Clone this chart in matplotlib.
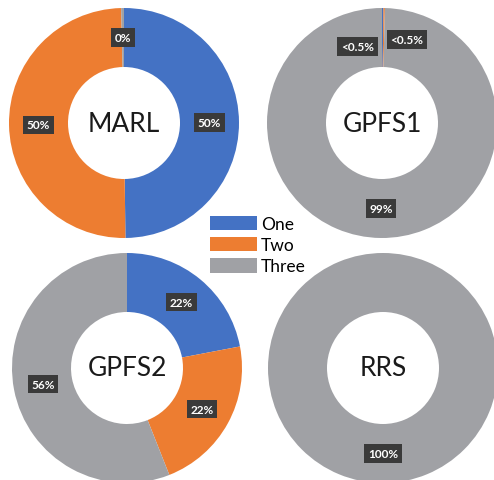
import matplotlib
matplotlib.use("Agg")
import matplotlib.pyplot as plt
from matplotlib.patches import Patch
import numpy as np

# ---- data ----
charts = ["MARL", "GPFS1", "GPFS2", "RRS"]
series = ["One", "Two", "Three"]
one_vals = [0.50, 0.002, 0.22, 0.0]
two_vals = [0.50, 0.002, 0.22, 0.0]
three_vals = [0.004, 0.996, 0.56, 1.0]
one_labels = ["50%", "<0.5%", "22%", ""]
two_labels = ["50%", "<0.5%", "22%", ""]
three_labels = ["0%", "99%", "56%", "100%"]

# ---- style / layout ----
colors = ["#4472C4", "#ED7D31", "#A0A1A5"]
W, H = 494, 481
centers_px = [(124, 124), (382, 124), (127, 369), (383, 369)]
R_out = 115
R_in = 56
# label nudges (px) for crowded labels: [chart][series]
nudges = {(1, 0): (-25, 9), (1, 1): (23, 2)}

fig = plt.figure(figsize=(W / 100, H / 100), dpi=100)
ax = fig.add_axes([0, 0, 1, 1])
ax.set_xlim(0, W)
ax.set_ylim(0, H)
ax.set_axis_off()

lab_font = dict(family=["Lato", "DejaVu Sans"], fontsize=8.5, fontweight="bold", color="white")
box = dict(boxstyle="square,pad=0.3", fc="#3A3A3A", ec="none")

for i, name in enumerate(charts):
    vals = [one_vals[i], two_vals[i], three_vals[i]]
    labs = [one_labels[i], two_labels[i], three_labels[i]]
    cx, cy = centers_px[i][0], H - centers_px[i][1]
    wedges, _ = ax.pie(vals, colors=colors, startangle=90, counterclock=False,
                       center=(cx, cy), radius=R_out,
                       wedgeprops=dict(width=R_out - R_in, linewidth=0),
                       normalize=True, frame=True)
    for j, (w, lab) in enumerate(zip(wedges, labs)):
        if not lab:
            continue
        mid = np.deg2rad((w.theta1 + w.theta2) / 2)
        rm = R_out - (R_out - R_in) / 2
        dx, dy = nudges.get((i, j), (0, 0))
        x = cx + rm * np.cos(mid) + dx
        y = cy + rm * np.sin(mid) - dy
        ax.text(x, y, lab, ha="center", va="center", bbox=box, **lab_font)
    ax.text(cx, cy, name, ha="center", va="center", fontsize=19,
            family=["Lato", "DejaVu Sans"], color="#1a1a1a")

ax.set_xlim(0, W)
ax.set_ylim(0, H)
ax.set_aspect("equal")
ax.set_axis_off()

handles = [Patch(facecolor=c, edgecolor="none") for c in colors]
fig.legend(handles, series, loc="center", bbox_to_anchor=(258 / W, 1 - 246 / H),
           frameon=False, handlelength=2.7, handleheight=0.9, handletextpad=0.25,
           labelspacing=0.3, borderpad=0, prop=dict(family=["Lato", "DejaVu Sans"], size=12.5))

fig.savefig("out.png", dpi=100)
